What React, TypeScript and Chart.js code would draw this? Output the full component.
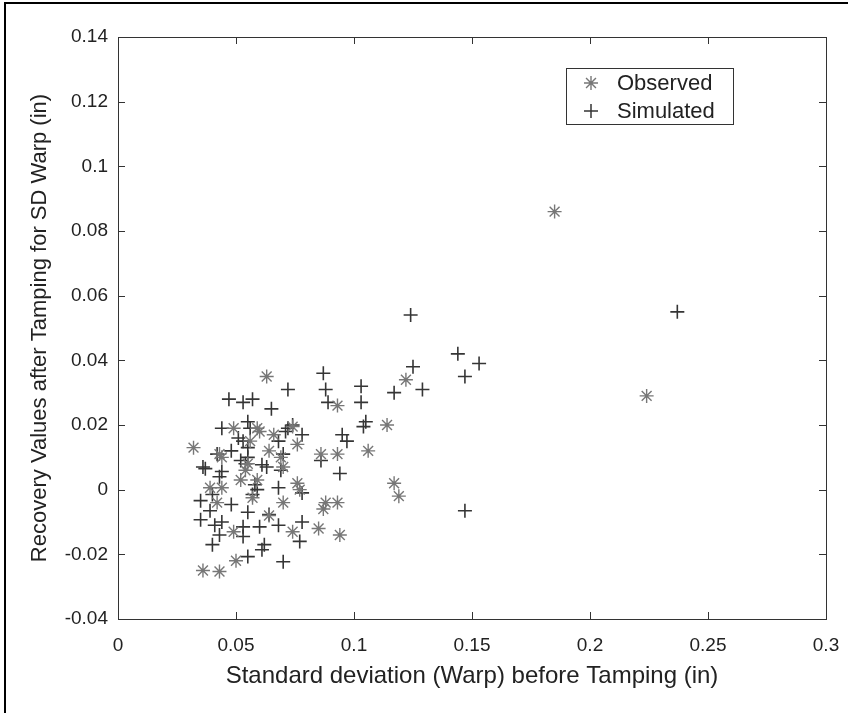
import React, { useEffect, useRef } from "react";
import { Chart, registerables } from "chart.js";

Chart.register(...registerables);

// Observed points [x, y]
const observedX = [0.185, 0.224, 0.122, 0.063, 0.114, 0.106, 0.117, 0.119, 0.093, 0.093, 0.086, 0.088, 0.093, 0.087, 0.094, 0.085, 0.076, 0.074, 0.059, 0.049, 0.032, 0.043, 0.044, 0.064, 0.069, 0.070, 0.052, 0.039, 0.044, 0.042, 0.059, 0.076, 0.077, 0.057, 0.070, 0.049, 0.074, 0.050, 0.036, 0.043, 0.064, 0.060, 0.055, 0.066, 0.056, 0.054];
const observedY = [0.086, 0.029, 0.034, 0.035, 0.020, 0.012, 0.002, -0.002, 0.026, 0.011, 0.011, -0.004, -0.004, -0.006, -0.014, -0.012, 0.014, 0.0195, 0.019, 0.019, 0.013, 0.011, 0.010, 0.012, 0.010, 0.007, 0.003, 0.0006, 0.0006, -0.004, 0.003, 0.002, 0.0, -0.0025, -0.004, -0.013, -0.013, -0.022, -0.025, -0.0253, -0.008, 0.018, 0.008, 0.017, 0.015, 0.006];

// Simulated points [x, y]
const simulatedX = [0.237, 0.124, 0.144, 0.153, 0.147, 0.125, 0.129, 0.117, 0.103, 0.103, 0.105, 0.104, 0.095, 0.097, 0.094, 0.147, 0.087, 0.088, 0.089, 0.072, 0.065, 0.047, 0.053, 0.057, 0.044, 0.051, 0.055, 0.056, 0.071, 0.072, 0.074, 0.078, 0.068, 0.053, 0.055, 0.048, 0.042, 0.036, 0.037, 0.044, 0.043, 0.055, 0.052, 0.054, 0.061, 0.063, 0.069, 0.070, 0.086, 0.058, 0.059, 0.057, 0.068, 0.078, 0.035, 0.040, 0.048, 0.039, 0.035, 0.041, 0.044, 0.043, 0.040, 0.055, 0.064, 0.053, 0.060, 0.068, 0.078, 0.077, 0.053, 0.062, 0.061, 0.055, 0.070];
const simulatedY = [0.055, 0.054, 0.042, 0.039, 0.035, 0.038, 0.031, 0.030, 0.032, 0.027, 0.021, 0.0195, 0.017, 0.015, 0.005, -0.0065, 0.036, 0.031, 0.027, 0.031, 0.025, 0.028, 0.027, 0.028, 0.019, 0.016, 0.021, 0.019, 0.018, 0.019, 0.020, 0.017, 0.015, 0.015, 0.013, 0.012, 0.011, 0.007, 0.0065, 0.0056, 0.004, 0.010, 0.009, 0.008, 0.0077, 0.007, 0.006, 0.011, 0.009, 0.0015, 0.0, -0.0015, 0.0006, -0.001, -0.0034, -0.0015, -0.0046, -0.0065, -0.0093, -0.011, -0.010, -0.014, -0.017, -0.007, -0.0077, -0.0115, -0.0115, -0.011, -0.010, -0.016, -0.0145, -0.017, -0.0186, -0.0207, -0.0223];

const xTickValues = [0, 0.05, 0.1, 0.15, 0.2, 0.25, 0.3];
const xTickLabels = ["0", "0.05", "0.1", "0.15", "0.2", "0.25", "0.3"];
const yTickValues = [-0.04, -0.02, 0, 0.02, 0.04, 0.06, 0.08, 0.1, 0.12, 0.14];
const yTickLabels = ["-0.04", "-0.02", "0", "0.02", "0.04", "0.06", "0.08", "0.1", "0.12", "0.14"];

const seriesNames = ["Observed", "Simulated"];
const xTitle = "Standard deviation (Warp) before Tamping (in)";
const yTitle = "Recovery Values after Tamping for SD Warp (in)";

const FONT = "'Liberation Sans', Arial, sans-serif";
const OBS_COLOR = "#777777";
const SIM_COLOR = "#353535";
const AXIS_COLOR = "#333333";
const TEXT_COLOR = "#222222";

function drawStar(ctx: CanvasRenderingContext2D, x: number, y: number, r: number) {
  ctx.beginPath();
  for (let k = 0; k < 4; k++) {
    const a = (k * Math.PI) / 4;
    ctx.moveTo(x - r * Math.cos(a), y - r * Math.sin(a));
    ctx.lineTo(x + r * Math.cos(a), y + r * Math.sin(a));
  }
  ctx.stroke();
}
function drawPlus(ctx: CanvasRenderingContext2D, x: number, y: number, r: number) {
  ctx.beginPath();
  ctx.moveTo(x - r, y);
  ctx.lineTo(x + r, y);
  ctx.moveTo(x, y - r);
  ctx.lineTo(x, y + r);
  ctx.stroke();
}

const boxPlugin = {
  id: "matlabBox",
  afterDraw(chart: any) {
    const { ctx, chartArea } = chart;
    const { left, right, top, bottom } = chartArea;
    const xs = chart.scales.x;
    const ys = chart.scales.y;
    ctx.save();
    ctx.strokeStyle = AXIS_COLOR;
    ctx.lineWidth = 1;
    ctx.strokeRect(Math.round(left) + 0.5, Math.round(top) + 0.5, Math.round(right - left), Math.round(bottom - top));
    const tl = 7;
    ctx.beginPath();
    xTickValues.forEach((v) => {
      const px = Math.round(xs.getPixelForValue(v)) + 0.5;
      ctx.moveTo(px, bottom);
      ctx.lineTo(px, bottom - tl);
      ctx.moveTo(px, top);
      ctx.lineTo(px, top + tl);
    });
    yTickValues.forEach((v) => {
      const py = Math.round(ys.getPixelForValue(v)) + 0.5;
      ctx.moveTo(left, py);
      ctx.lineTo(left + tl, py);
      ctx.moveTo(right, py);
      ctx.lineTo(right - tl, py);
    });
    ctx.stroke();

    // legend
    const lx = 566, ly = 68, lw = 167, lh = 56;
    ctx.fillStyle = "#ffffff";
    ctx.fillRect(lx, ly, lw, lh);
    ctx.strokeStyle = AXIS_COLOR;
    ctx.strokeRect(lx + 0.5, ly + 0.5, lw, lh);
    ctx.font = `22px ${FONT}`;
    ctx.textBaseline = "middle";
    ctx.textAlign = "left";
    ctx.fillStyle = TEXT_COLOR;
    ctx.strokeStyle = OBS_COLOR;
    ctx.lineWidth = 1.4;
    drawStar(ctx, 591, 83, 7);
    ctx.strokeStyle = SIM_COLOR;
    ctx.lineWidth = 1.5;
    drawPlus(ctx, 591, 111, 7);
    ctx.fillText(seriesNames[0], 617, 84);
    ctx.fillText(seriesNames[1], 617, 112);
    ctx.restore();
  },
};

export default function App() {
  const canvasRef = useRef<HTMLCanvasElement | null>(null);

  useEffect(() => {
    if (!canvasRef.current) return;
    const obsData = observedX.map((x, i) => ({ x, y: observedY[i] }));
    const simData = simulatedX.map((x, i) => ({ x, y: simulatedY[i] }));
    const chart = new Chart(canvasRef.current, {
      type: "scatter",
      data: {
        datasets: [
          {
            label: seriesNames[0],
            data: obsData,
            pointStyle: "star",
            pointRadius: 7,
            borderColor: OBS_COLOR,
            backgroundColor: OBS_COLOR,
            pointBorderWidth: 1.4,
          },
          {
            label: seriesNames[1],
            data: simData,
            pointStyle: "cross",
            pointRadius: 7,
            borderColor: SIM_COLOR,
            backgroundColor: SIM_COLOR,
            pointBorderWidth: 1.6,
          },
        ],
      },
      options: {
        responsive: false,
        animation: false,
        layout: { padding: { left: 0, right: 22, top: 37, bottom: 0 } },
        plugins: { legend: { display: false }, tooltip: { enabled: false } },
        scales: {
          x: {
            type: "linear",
            min: 0,
            max: 0.3,
            afterBuildTicks: (scale: any) => {
              scale.ticks = xTickValues.map((v) => ({ value: v }));
            },
            afterFit: (scale: any) => {
              scale.height = 94;
            },
            grid: { display: false, drawTicks: true, tickLength: 15 },
            border: { display: false },
            ticks: {
              padding: 0,
              color: TEXT_COLOR,
              font: { family: FONT, size: 19 },
              maxRotation: 0,
              autoSkip: false,
              callback: (_v: any, i: number) => xTickLabels[i],
            },
            title: {
              display: true,
              text: xTitle,
              color: TEXT_COLOR,
              font: { family: FONT, size: 24 },
              padding: { top: 0, bottom: 22 },
            },
          },
          y: {
            type: "linear",
            min: -0.04,
            max: 0.14,
            afterBuildTicks: (scale: any) => {
              scale.ticks = yTickValues.map((v) => ({ value: v }));
            },
            afterFit: (scale: any) => {
              scale.width = 118;
            },
            grid: { display: false, drawTicks: true, tickLength: 10 },
            border: { display: false },
            ticks: {
              padding: 0,
              color: TEXT_COLOR,
              font: { family: FONT, size: 19 },
              autoSkip: false,
              callback: (_v: any, i: number) => yTickLabels[i],
            },
            title: {
              display: true,
              text: yTitle,
              color: TEXT_COLOR,
              font: { family: FONT, size: 22 },
              padding: { top: 27, bottom: 0 },
            },
          },
        },
      },
      plugins: [boxPlugin],
    });
    return () => chart.destroy();
  }, []);

  return (
    <div style={{ position: "fixed", left: 0, top: 0, width: 848, height: 713, background: "#ffffff" }}>
      <canvas ref={canvasRef} width={848} height={713} style={{ display: "block" }} />
      <div style={{ position: "absolute", left: 4, top: 2, width: 844, height: 0, borderTop: "2px solid #000" }} />
      <div style={{ position: "absolute", left: 4, top: 2, width: 0, height: 711, borderLeft: "2px solid #000" }} />
    </div>
  );
}
